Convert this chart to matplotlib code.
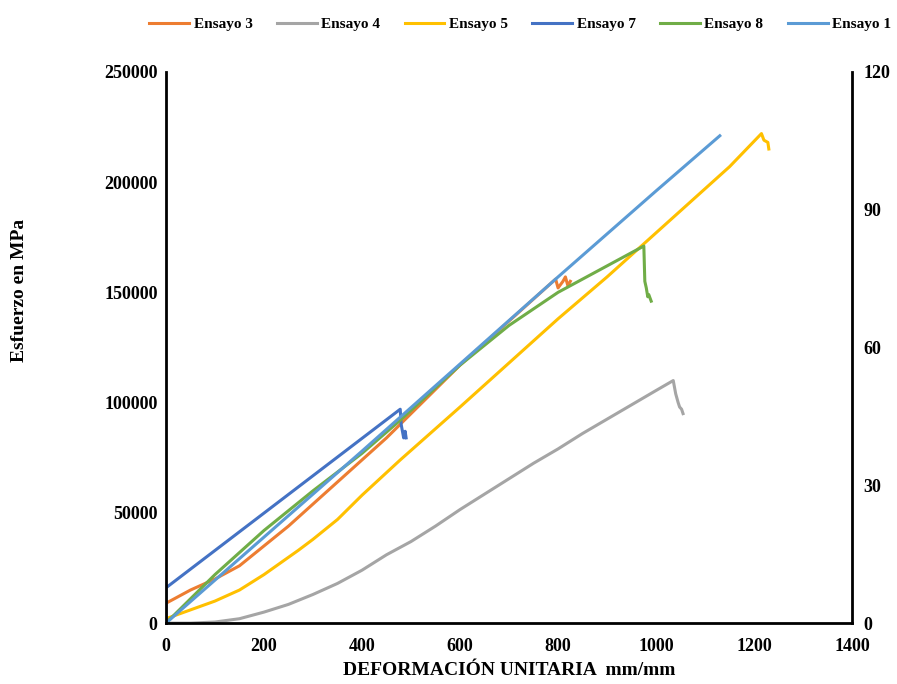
import matplotlib
matplotlib.use("Agg")
import matplotlib.pyplot as plt

plt.rcParams['font.family'] = ['Liberation Serif', 'DejaVu Serif']
plt.rcParams['font.weight'] = 'bold'

# Ensayo 3 (orange)
e3_x = [0, 50, 100, 150, 200, 250, 300, 350, 400, 450, 500, 550, 600, 650, 700, 750, 795, 800, 810, 815, 820, 825]
e3_y = [9000, 15000, 20000, 26000, 35000, 44000, 54000, 64000, 74000, 84000, 95000, 106000, 117000, 127000, 137000, 147000, 156000, 152000, 155000, 157000, 153000, 155000]

# Ensayo 4 (gray)
e4_x = [0, 50, 100, 150, 200, 250, 300, 350, 400, 450, 500, 550, 600, 650, 700, 750, 800, 850, 900, 950, 1000, 1035, 1040, 1045, 1048, 1052, 1055]
e4_y = [0, 0, 500, 2000, 5000, 8500, 13000, 18000, 24000, 31000, 37000, 44000, 51500, 58500, 65500, 72500, 79000, 86000, 92500, 99000, 105500, 110000, 104000, 100000, 98000, 97000, 95000]

# Ensayo 5 (yellow)
e5_x = [0, 50, 100, 150, 200, 270, 300, 350, 400, 478, 600, 700, 800, 900, 975, 1050, 1100, 1150, 1215, 1220, 1228, 1230]
e5_y = [2000, 6000, 10000, 15000, 22000, 33000, 38000, 47000, 58000, 74000, 98000, 118000, 138000, 157000, 172000, 187000, 197000, 207000, 222000, 219000, 218000, 215000]

# Ensayo 7 (dark blue)
e7_x = [0, 0, 478, 480, 485, 488, 490]
e7_y = [0, 16000, 97000, 90000, 84000, 87000, 84000]

# Ensayo 8 (green)
e8_x = [0, 100, 200, 300, 400, 478, 600, 700, 800, 900, 975, 977, 980, 983, 985, 990]
e8_y = [0, 22000, 42000, 60000, 77000, 92000, 117000, 135000, 150000, 162000, 171000, 155000, 152000, 148000, 149000, 146000]

# Ensayo 1 (light blue)
e1_x = [0, 200, 400, 600, 800, 1000, 1130]
e1_y = [0, 39000, 78000, 117500, 157000, 196000, 221000]

series = [
    ("Ensayo 3", e3_x, e3_y, "#ED7D31"),
    ("Ensayo 4", e4_x, e4_y, "#A5A5A5"),
    ("Ensayo 5", e5_x, e5_y, "#FFC000"),
    ("Ensayo 7", e7_x, e7_y, "#4472C4"),
    ("Ensayo 8", e8_x, e8_y, "#70AD47"),
    ("Ensayo 1", e1_x, e1_y, "#5B9BD5"),
]

fig = plt.figure(figsize=(8.97, 6.84), dpi=100)
ax = fig.add_axes([0.185, 0.089, 0.765, 0.806])
for name, x, y, c in series:
    ax.plot(x, y, color=c, lw=2.2, label=name)

ax.set_xlim(0, 1400)
ax.set_ylim(0, 250000)
ax.set_xticks(range(0, 1401, 200))
ax.set_yticks(range(0, 250001, 50000))
ax.tick_params(axis='y', length=0, labelsize=13, pad=6)
ax.tick_params(axis='x', length=0, labelsize=13, pad=11)
for lab in ax.get_xticklabels() + ax.get_yticklabels():
    lab.set_fontweight('bold')
ax.spines['top'].set_visible(False)
ax.spines['right'].set_visible(False)
for s in ['left', 'bottom']:
    ax.spines[s].set_linewidth(2)
    ax.spines[s].set_color('black')

ax2 = ax.twinx()
ax2.set_ylim(0, 120)
ax2.set_yticks(range(0, 121, 30))
ax2.tick_params(axis='y', length=0, labelsize=13, pad=8)
for lab in ax2.get_yticklabels():
    lab.set_fontweight('bold')
for s in ['top', 'left', 'bottom']:
    ax2.spines[s].set_visible(False)
ax2.spines['right'].set_linewidth(2)
ax2.spines['right'].set_color('black')

ax.set_xlabel("DEFORMACIÓN UNITARIA  mm/mm", fontsize=14, fontweight='bold', labelpad=5)
fig.text(0.022, 0.576, "Esfuerzo en MPa", rotation=90, fontsize=14, fontweight='bold', va='center', ha='center')

fig.legend(loc='upper center', bbox_to_anchor=(0.58, 0.995), ncol=6, frameon=False,
           prop={'weight': 'bold', 'size': 11}, handlelength=2.6, columnspacing=1.6, handletextpad=0.3)

fig.savefig("out.png", dpi=100)
